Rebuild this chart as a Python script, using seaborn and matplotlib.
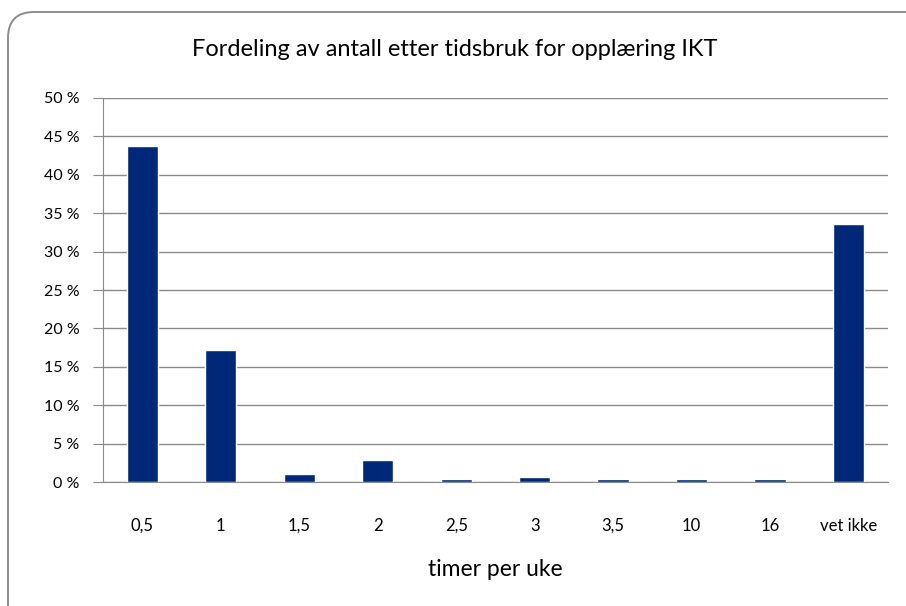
import matplotlib
matplotlib.use("Agg")
import matplotlib.pyplot as plt
from matplotlib.patches import FancyBboxPatch
from matplotlib.ticker import FuncFormatter
import seaborn as sns
import pandas as pd

# --- data ---
categories = ["0,5", "1", "1,5", "2", "2,5", "3", "3,5", "10", "16", "vet ikke"]
shares = [43.75, 17.2, 1.05, 2.85, 0.4, 0.65, 0.4, 0.4, 0.4, 33.6]
y_ticks = [0, 5, 10, 15, 20, 25, 30, 35, 40, 45, 50]

df = pd.DataFrame({"timer": categories, "andel": shares})

sns.set_style("white")
plt.rcParams["font.family"] = ["Lato", "DejaVu Sans"]
plt.rcParams["text.color"] = "black"
plt.rcParams["axes.labelcolor"] = "black"

fig = plt.figure(figsize=(9.06, 6.06), dpi=100)

# rounded frame, cut off at the right and bottom edges like in the original
frame = FancyBboxPatch((8, -30), 940, 624,
                       boxstyle="round,pad=0,rounding_size=26",
                       transform=None, facecolor="white",
                       edgecolor="#8c8c8c", linewidth=1.4, zorder=-1)
fig.add_artist(frame)

ax = fig.add_axes([0.1137, 0.2046, 0.8663, 0.6337])
ax.set_facecolor("none")

sns.barplot(data=df, x="timer", y="andel", color="#002878", width=0.4,
            saturation=1, ax=ax, zorder=3)

ax.set_xlim(-0.5, len(categories) - 0.5)
ax.set_ylim(0, 50)
ax.set_yticks(y_ticks)
ax.yaxis.set_major_formatter(FuncFormatter(lambda v, p: f"{int(v)} %"))
ax.grid(axis="y", color="#8a8a8a", linewidth=1.0, zorder=0)
ax.set_axisbelow(True)

for side in ["top", "right"]:
    ax.spines[side].set_visible(False)
ax.spines["left"].set_color("#8a8a8a")
ax.spines["bottom"].set_color("#8a8a8a")

ax.tick_params(axis="y", length=7, color="#8a8a8a", labelcolor="black",
               labelsize=11.5, pad=10, direction="out", left=True)
ax.tick_params(axis="x", length=0, labelsize=12, pad=26, labelcolor="black")

ax.set_ylabel("")
ax.set_xlabel("timer per uke", fontsize=16.5, labelpad=18)
fig.text(455 / 906, 1 - 50 / 606,
         "Fordeling av antall etter tidsbruk for opplæring IKT",
         ha="center", va="center", fontsize=17)

fig.savefig("out.png", dpi=100)
